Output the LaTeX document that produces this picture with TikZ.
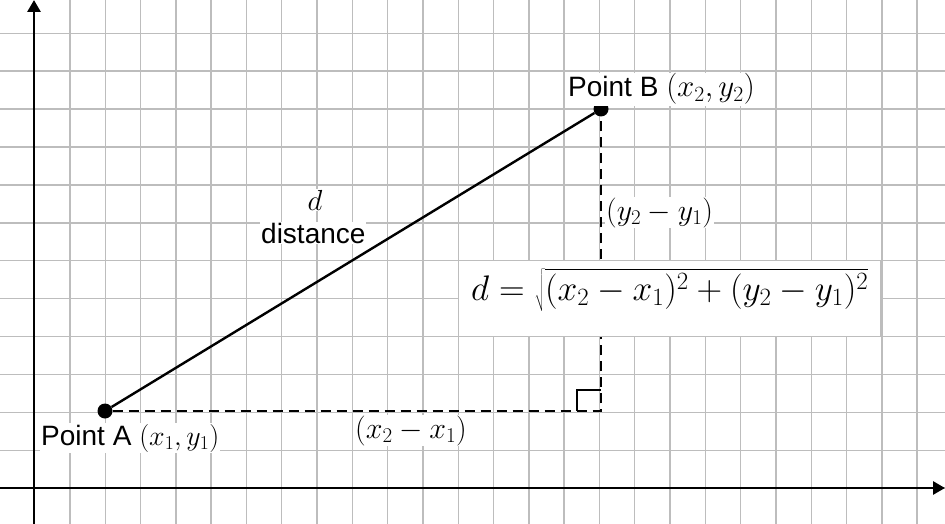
\RequirePackage{fix-cm}
\documentclass[tikz,border=0pt]{standalone}
\usepackage{fontspec}
\setmainfont{Liberation Sans}
\usetikzlibrary{arrows.meta}
\begin{document}
\begin{tikzpicture}[x=1pt,y=-1pt,
  gridline/.style={draw=gridgray,line width=1.4pt},
  axisline/.style={line width=2.8pt,-{Triangle[length=12pt,width=13pt]}},
  segline/.style={line width=2.4pt},
  dashline/.style={line width=2.4pt,dash pattern=on 10pt off 6pt},
  ptdot/.style={circle,fill=black,minimum size=15pt,inner sep=0pt},
  lbl/.style={fill=white,inner sep=1pt,font=\fontsize{28}{34}\selectfont},
  mlbl/.style={fill=white,inner sep=1pt,font=\fontsize{30}{36}\selectfont},
]
\definecolor{gridgray}{HTML}{BDBDBD}
\useasboundingbox (0,0) rectangle (945,524);
\fill[white] (0,0) rectangle (945,524);
% grid
\foreach \k in {1,...,25} \draw[gridline] ({34.6+35.3*\k},0) -- ({34.6+35.3*\k},524);
\foreach \k in {0,...,12} \draw[gridline] (0,{33.3+37.9*\k}) -- (945,{33.3+37.9*\k});
% axes
\coordinate (ybot) at (34,524);
\coordinate (ytop) at (34,0);
\coordinate (xlft) at (0,488);
\coordinate (xrgt) at (945,488);
\draw[axisline] (ybot) -- (ytop);
\draw[axisline] (xlft) -- (xrgt);
% points
\coordinate (C) at (601,411);
\node[ptdot] (A) at (105,411) {};
\node[ptdot] (B) at (601,109) {};
\draw[segline] (A) -- (B);
\draw[dashline] (A.east) -- (C) -- (B.south);
% right angle mark
\coordinate (r1) at (577,411);
\coordinate (r2) at (577,390);
\coordinate (r3) at (601,390);
\draw[segline] (r1) -- (r2) -- (r3);
% formula box
\node[fill=white,draw=gridgray,line width=1.4pt,minimum width=422pt,minimum height=76pt,anchor=north west,inner sep=0pt] (fbox) at (458,260) {};
\node[inner sep=0pt,anchor=base west,font=\fontsize{35.5}{40}\selectfont] (formula) at (471,300) {$d=\sqrt{\rule[-0.3em]{0pt}{1.12em}(x_2-x_1)^2+(y_2-y_1)^2}$};
% labels
\node[lbl,anchor=base west] (labA) at (40,445) {Point A $(x_1,y_1)$};
\node[lbl,anchor=base west] (labB) at (567,97) {Point B {\fontsize{31}{34}\selectfont$(x_2,y_2)$}};
\node[lbl,anchor=base,font=\fontsize{29}{30}\selectfont] (labd) at (315,210) {$d$};
\node[lbl,anchor=base west] (labdist) at (260,243) {distance};
\node[mlbl,anchor=base west] (laby) at (605,220) {$(y_2-y_1)$};
\node[mlbl,anchor=base west] (labx) at (354,438) {$(x_2-x_1)$};
\end{tikzpicture}
\end{document}
